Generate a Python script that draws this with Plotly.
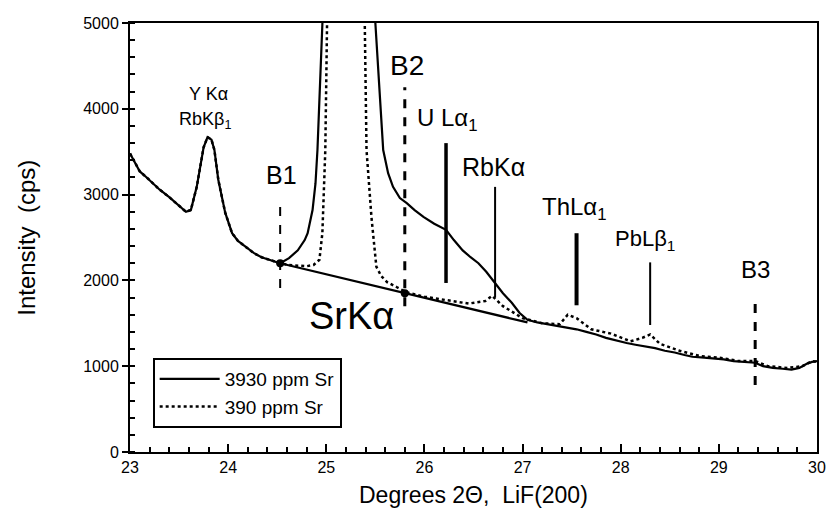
import plotly.graph_objects as go

# ---- data ----
x_3930 = [23.0, 23.05, 23.1, 23.17, 23.23, 23.3, 23.4, 23.5, 23.57, 23.62, 23.68, 23.75, 23.79, 23.83,
          23.86, 23.9, 23.97, 24.04, 24.1, 24.18, 24.26, 24.34, 24.44, 24.53, 24.62, 24.71, 24.78,
          24.81, 24.86, 24.89, 24.91, 24.93, 24.95, 25.05, 25.2, 25.4, 25.47, 25.5, 25.55, 25.58,
          25.63, 25.68, 25.75, 25.82, 25.9, 25.99, 26.1, 26.22, 26.3, 26.39, 26.47, 26.55, 26.63,
          26.72, 26.8, 26.89, 26.97, 27.05, 27.15, 27.25, 27.35, 27.45, 27.55, 27.65, 27.75, 27.85,
          27.95, 28.06, 28.15, 28.25, 28.35, 28.45, 28.55, 28.65, 28.73, 28.85, 28.95, 29.05, 29.15,
          29.25, 29.37, 29.45, 29.55, 29.65, 29.74, 29.82, 29.9, 29.95, 30.0]
y_3930 = [3480, 3380, 3270, 3200, 3130, 3060, 2970, 2870, 2800, 2820, 3090, 3550, 3670, 3640,
          3520, 3170, 2790, 2550, 2460, 2390, 2320, 2270, 2230, 2200, 2260, 2350, 2470,
          2550, 2820, 3130, 3520, 4300, 5500, 9000, 12000, 9000, 6500, 5000, 4000, 3520,
          3250, 3090, 2960, 2900, 2820, 2740, 2660, 2590, 2470, 2350, 2270, 2200, 2100,
          1970, 1850, 1740, 1620, 1540, 1510, 1490, 1470, 1450, 1430, 1400, 1370, 1330,
          1300, 1270, 1250, 1230, 1210, 1180, 1160, 1130, 1110, 1100, 1090, 1080, 1060,
          1050, 1040, 1000, 980, 970, 960, 980, 1030, 1050, 1060]

x_390 = [23.0, 23.05, 23.1, 23.17, 23.23, 23.3, 23.4, 23.5, 23.57, 23.62, 23.68, 23.75, 23.79, 23.83,
         23.86, 23.9, 23.97, 24.04, 24.1, 24.18, 24.26, 24.34, 24.44, 24.53, 24.62, 24.71, 24.8,
         24.87, 24.93, 24.96, 24.98, 24.99, 25.02, 25.2, 25.38, 25.41, 25.46, 25.51, 25.56, 25.62,
         25.72, 25.82, 26.0, 26.22, 26.45, 26.62, 26.69, 26.8, 27.0, 27.2, 27.38, 27.46, 27.55,
         27.7, 27.9, 28.1, 28.22, 28.3, 28.4, 28.6, 28.8, 29.0, 29.2, 29.37, 29.5, 29.7, 29.85,
         29.95, 30.0]
y_390 = [3480, 3380, 3270, 3200, 3130, 3060, 2970, 2870, 2800, 2820, 3090, 3550, 3670, 3640,
         3520, 3170, 2790, 2550, 2460, 2390, 2320, 2270, 2230, 2200, 2180, 2170, 2165,
         2180, 2240, 2550, 3130, 3520, 6000, 9000, 6000, 3520, 2740, 2160, 2050, 1980,
         1920, 1860, 1810, 1770, 1730, 1760, 1820, 1700, 1560, 1500, 1490, 1600, 1560,
         1430, 1380, 1290, 1330, 1370, 1260, 1180, 1120, 1100, 1060, 1060, 1000, 980, 1000,
         1060, 1050]

bg_x = [24.53, 25.8, 27.05]
bg_y = [2200, 1850, 1510]

pt_x = [24.53, 25.8]
pt_y = [2200, 1850]

# vertical marker lines: position, bottom, top
mk_names = ["B1", "B2", "U", "RbKa", "ThLa", "PbLb", "B3"]
mk_x = [24.53, 25.8, 26.22, 26.72, 27.55, 28.3, 29.37]
mk_y0 = [1910, 1700, 1970, 1800, 1710, 1480, 780]
mk_y1 = [2940, 4250, 3600, 3090, 2550, 2210, 1770]
mk_dash = ["dash", "dash", "solid", "solid", "solid", "solid", "dash"]
mk_w = [2, 3, 3.5, 2, 4, 2, 3]

# labels
lab_text = ["Y Kα", "RbKβ<sub>1</sub>", "B1", "B2", "U Lα<sub>1</sub>", "RbKα",
            "ThLα<sub>1</sub>", "PbLβ<sub>1</sub>", "B3", "SrKα"]
lab_x = [23.8, 23.76, 24.54, 25.82, 26.24, 26.7, 27.53, 28.25, 29.37, 25.26]
lab_y = [4170, 3860, 3230, 4510, 3880, 3320, 2840, 2470, 2130, 1590]
lab_size = [18, 18, 25, 28, 24, 25, 24, 22, 24, 38]

x_range = [23, 30]
y_range = [0, 5000]
x_tick0, x_step, x_minor = 23, 1, 0.2
y_tick0, y_step, y_minor = 0, 1000, 200

FONT = "Arial, 'Liberation Sans', sans-serif"

fig = go.Figure()

fig.add_trace(go.Scatter(x=x_390, y=y_390, mode="lines", name="390 ppm Sr",
                         line=dict(color="black", width=2.5, dash="dot"), legendrank=2))
fig.add_trace(go.Scatter(x=x_3930, y=y_3930, mode="lines", name="3930 ppm Sr",
                         line=dict(color="black", width=2.2), legendrank=1))
fig.add_trace(go.Scatter(x=bg_x, y=bg_y, mode="lines", showlegend=False,
                         line=dict(color="black", width=2.2)))
fig.add_trace(go.Scatter(x=pt_x, y=pt_y, mode="markers", showlegend=False,
                         marker=dict(color="black", size=8, symbol="circle")))

for i in range(len(mk_x)):
    fig.add_trace(go.Scatter(x=[mk_x[i], mk_x[i]], y=[mk_y0[i], mk_y1[i]], mode="lines",
                             showlegend=False,
                             line=dict(color="black", width=mk_w[i], dash=mk_dash[i])))

for t, x, y, s in zip(lab_text, lab_x, lab_y, lab_size):
    fig.add_annotation(x=x, y=y, xref="x", yref="y", text=t, showarrow=False,
                       font=dict(family=FONT, size=s, color="black"),
                       xanchor="center", yanchor="middle")

# axis titles
fig.add_annotation(xref="paper", yref="paper", x=-0.151, y=0.5, text="Intensity  (cps)",
                   textangle=-90, showarrow=False, xanchor="center", yanchor="middle",
                   font=dict(family=FONT, size=24, color="black"))
fig.add_annotation(xref="paper", yref="paper", x=0.5, y=-0.100, text="Degrees 2Θ,  LiF(200)",
                   showarrow=False, xanchor="center", yanchor="middle",
                   font=dict(family=FONT, size=23, color="black"))

fig.update_xaxes(range=x_range, tickmode="linear", tick0=x_tick0, dtick=x_step,
                 showline=True, linecolor="black", linewidth=2, mirror=True,
                 ticks="inside", ticklen=8, tickwidth=2, tickcolor="black",
                 minor=dict(ticks="inside", ticklen=5, tickwidth=1.5, tickcolor="black",
                            dtick=x_minor, tick0=x_tick0, showgrid=False),
                 showgrid=False, zeroline=False,
                 tickfont=dict(family=FONT, size=16, color="black"))
fig.update_yaxes(range=y_range, tickmode="linear", tick0=y_tick0, dtick=y_step,
                 showline=True, linecolor="black", linewidth=2, mirror=True,
                 ticks="outside", ticklen=6, tickwidth=2, tickcolor="black",
                 minor=dict(ticks="inside", ticklen=5, tickwidth=1.5, tickcolor="black",
                            dtick=y_minor, tick0=y_tick0, showgrid=False),
                 showgrid=False, zeroline=False,
                 tickfont=dict(family=FONT, size=16, color="black"))

fig.update_layout(
    width=835, height=519, margin=dict(l=130, r=9, t=23, b=67),
    paper_bgcolor="white", plot_bgcolor="white",
    legend=dict(x=0.033, y=0.219, xanchor="left", yanchor="top",
                bordercolor="black", borderwidth=2, bgcolor="white",
                font=dict(family=FONT, size=19, color="black"),
                itemwidth=60, tracegroupgap=2),
    showlegend=True)

fig.write_html("out.html")
